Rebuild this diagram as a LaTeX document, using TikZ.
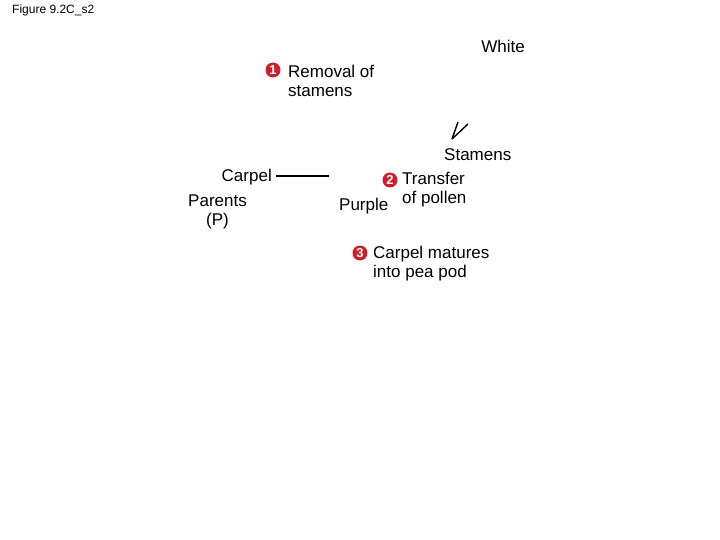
\documentclass[tikz,border=0pt]{standalone}
\usepackage{fontspec}
\setmainfont{Liberation Sans}
\definecolor{stepred}{RGB}{205,30,45}
\tikzset{
  lbl/.style={inner sep=0pt, font=\fontsize{17}{19}\selectfont},
  stepnum/.style={circle, fill=stepred, text=white, inner sep=0pt, minimum size=15pt, font=\fontsize{13}{13}\selectfont\bfseries},
}
\begin{document}
\begin{tikzpicture}[x=1pt,y=-1pt]
  \useasboundingbox (0,0) rectangle (720,540);
  \node[anchor=west,inner sep=0pt,font=\fontsize{12}{14}\selectfont] (fig) at (12,10) {Figure 9.2C\_s2};
  \node[lbl,anchor=east] (white) at (525,46) {White};
  % step 1
  \node[stepnum] (one) at (273,70) {1};
  \node[lbl,anchor=west,align=left] (removal) at (288,80.5) {Removal of\\stamens};
  % stamens
  \node[lbl,anchor=west] (stamens) at (444,155) {Stamens};
  \coordinate (stbase) at (452,139);
  \coordinate (sttipa) at (458,122);
  \coordinate (sttipb) at (468,124);
  \draw[line width=1.4pt] (stbase) -- (sttipa);
  \draw[line width=1.4pt] (stbase) -- (sttipb);
  % carpel
  \node[lbl,anchor=east] (carpel) at (272,177) {Carpel};
  \coordinate (carpelend) at (329,176);
  \draw[line width=1.4pt,shorten <=4pt] (carpel.east |- carpelend) -- (carpelend);
  \node[lbl,align=center] (parents) at (217.5,211.5) {Parents\\(P)};
  \node[lbl,anchor=west] (purple) at (339,206) {Purple};
  % step 2
  \node[stepnum] (two) at (390,180) {2};
  \node[lbl,anchor=west,align=left] (transfer) at (402,189.5) {Transfer\\of pollen};
  % step 3
  \node[stepnum] (three) at (360,253) {3};
  \node[lbl,anchor=west,align=left] (matures) at (373,263.5) {Carpel matures\\into pea pod};
\end{tikzpicture}
\end{document}
